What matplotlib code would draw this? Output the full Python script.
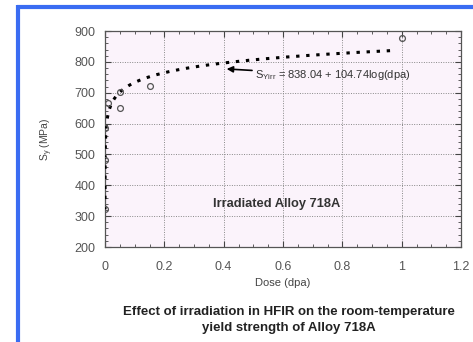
import numpy as np
import matplotlib
matplotlib.use("Agg")
import matplotlib.pyplot as plt
from matplotlib.ticker import MultipleLocator
from matplotlib.lines import Line2D

plt.rcParams['font.family'] = ['Liberation Sans', 'DejaVu Sans']

# Measured yield strength vs. dose
dose = [0.0, 0.0, 0.0, 0.01, 0.05, 0.05, 0.15, 1.0]
strength = [323, 482, 586, 667, 651, 703, 722, 878]

# Logarithmic fit: S = a + b*log10(dpa)
fit_a = 838.04
fit_b = 104.74
fit_dose = np.geomspace(1.2e-5, 0.98, 400)
fit_strength = fit_a + fit_b * np.log10(fit_dose)

fig = plt.figure(figsize=(4.73, 3.42), dpi=100)
fig.patch.set_facecolor('white')

# Blue frame along the top and left edges
blue = '#3a6cf2'
fig.add_artist(Line2D([18/473, 18/473], [0, 1 - 5/342], transform=fig.transFigure,
                      color=blue, lw=3.0, solid_capstyle='butt'))
fig.add_artist(Line2D([16.5/473, 1], [1 - 7/342, 1 - 7/342], transform=fig.transFigure,
                      color=blue, lw=3.0, solid_capstyle='butt'))

ax = fig.add_axes([105/473, 1 - 247/342, 356/473, 216/342])
ax.set_facecolor('#fbf3fb')

ax.plot(fit_dose, fit_strength, color='black', lw=2.2,
        linestyle=(0, (1.1, 2.2)), dash_capstyle='butt', zorder=3)
ax.plot(dose, strength, linestyle='none', marker='o', ms=4.2,
        mfc='none', mec='#555555', mew=0.9, zorder=4)

ax.set_xlim(0, 1.2)
ax.set_ylim(200, 900)
ax.xaxis.set_major_locator(MultipleLocator(0.2))
ax.xaxis.set_minor_locator(MultipleLocator(0.05))
ax.yaxis.set_major_locator(MultipleLocator(100))
ax.yaxis.set_minor_locator(MultipleLocator(20))
ax.xaxis.set_major_formatter(plt.FuncFormatter(lambda v, p: f"{v:g}"))

ax.tick_params(which='both', direction='in', top=True, right=True,
               colors='#444444', labelcolor='#555555', labelsize=9)
ax.tick_params(which='major', length=4, width=0.8)
ax.tick_params(which='minor', length=2.5, width=0.6)
ax.tick_params(axis='x', which='major', pad=10)
ax.tick_params(axis='y', which='major', pad=7)
for s in ax.spines.values():
    s.set_color('#555555')
    s.set_linewidth(0.9)

ax.grid(which='major', color='#888888', linestyle=(0, (1, 1.5)), linewidth=0.7)
ax.set_axisbelow(True)

ax.set_xlabel('Dose (dpa)', fontsize=8, color='#444444', labelpad=4)
ax.set_ylabel(r'S$_\mathregular{y}$ (MPa)', fontsize=7.5, color='#444444', labelpad=14)

ax.annotate(r'S$_\mathregular{Yirr}$ = 838.04 + 104.74log(dpa)',
            xy=(0.41, 777), xytext=(0.505, 757), fontsize=8, color='#333333',
            va='center', ha='left',
            arrowprops=dict(arrowstyle='-|>', color='black', lw=1.2,
                            mutation_scale=9, shrinkA=0, shrinkB=0))

ax.text(0.58, 339, 'Irradiated Alloy 718A', fontsize=9.3, fontweight='bold',
        color='#333333', ha='center', va='center')

fig.text(288.5/473, 1 - 311.5/342, 'Effect of irradiation in HFIR on the room-temperature',
         fontsize=9.5, fontweight='bold', color='#222222', ha='center', va='center')
fig.text(288.5/473, 1 - 328.5/342, 'yield strength of Alloy 718A',
         fontsize=9.5, fontweight='bold', color='#222222', ha='center', va='center')

fig.savefig('out.png', dpi=100)
